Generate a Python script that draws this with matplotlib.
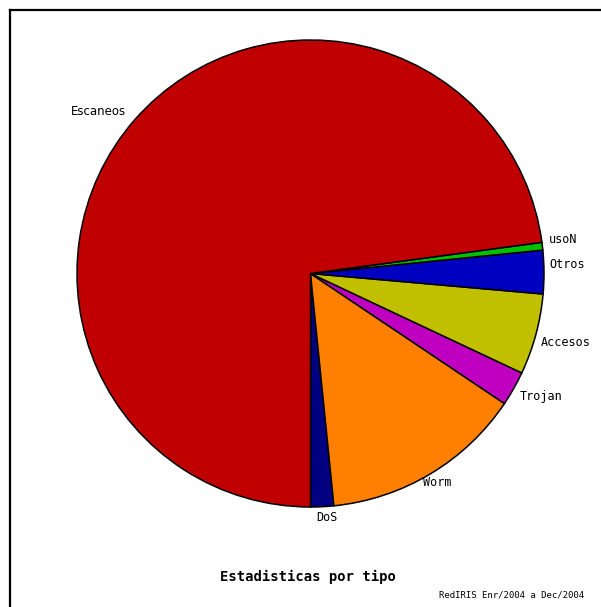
import matplotlib
matplotlib.use('Agg')
import matplotlib.pyplot as plt
import numpy as np
from matplotlib.lines import Line2D
from matplotlib.transforms import ScaledTranslation

# data (share of incidents, %)
tipos = ['DoS', 'Worm', 'Trojan', 'Accesos', 'Otros', 'usoN', 'Escaneos']
valores = [1.6, 14.0, 2.4, 5.6, 3.0, 0.53, 72.87]
colores = ['#000080', '#ff8000', '#c000c0', '#c0c000', '#0000c0', '#00c000', '#c00000']

titulo = 'Estadisticas por tipo'
pie_nota = 'RedIRIS Enr/2004 a Dec/2004'

# small nudges (pixels, y down) so the labels sit where the original put them
ajuste = {'DoS': (-6, 4), 'Worm': (-11, 3), 'Trojan': (0, 4), 'Accesos': (-2, 6),
          'Otros': (-2, -7), 'usoN': (0, -6), 'Escaneos': (-3, -4)}

W, H = 601, 607
fig = plt.figure(figsize=(W / 100, H / 100), dpi=100)

# pie centre / radius in pixels
cx, cy, r = 310.5, 273.5, 233.5
ax = fig.add_axes([(cx - r) / W, (H - cy - r) / H, 2 * r / W, 2 * r / H])

wedges, texts = ax.pie(valores, colors=colores, startangle=-90, counterclock=True,
                       labels=tipos, labeldistance=1.03,
                       wedgeprops=dict(edgecolor='black', linewidth=1.1))
for t in texts:
    name = t.get_text()
    t.set_fontfamily('DejaVu Sans' if name == 'Escaneos' else 'DejaVu Sans Mono')
    t.set_fontsize(8.5)
    dx, dy = ajuste[name]
    t.set_transform(t.get_transform() + ScaledTranslation(dx / 100, -dy / 100, fig.dpi_scale_trans))
ax.set_xlim(-1, 1)
ax.set_ylim(-1, 1)
ax.set_aspect('auto')
ax.axis('off')

# frame lines (top and left)
fig.add_artist(Line2D([9.5 / W, 9.5 / W], [0, 1 - 9.5 / H], color='black', linewidth=1.6,
                      transform=fig.transFigure))
fig.add_artist(Line2D([9.5 / W, 1], [1 - 9.5 / H, 1 - 9.5 / H], color='black', linewidth=1.6,
                      transform=fig.transFigure))

fig.text(308 / W, 1 - 577 / H, titulo, ha='center', va='center',
         fontfamily='DejaVu Sans Mono', fontweight='bold', fontsize=10)
fig.text(584 / W, 1 - 595 / H, pie_nota, ha='right', va='center',
         fontfamily='DejaVu Sans Mono', fontsize=6.5)

fig.savefig('out.png', dpi=100, facecolor='white')
